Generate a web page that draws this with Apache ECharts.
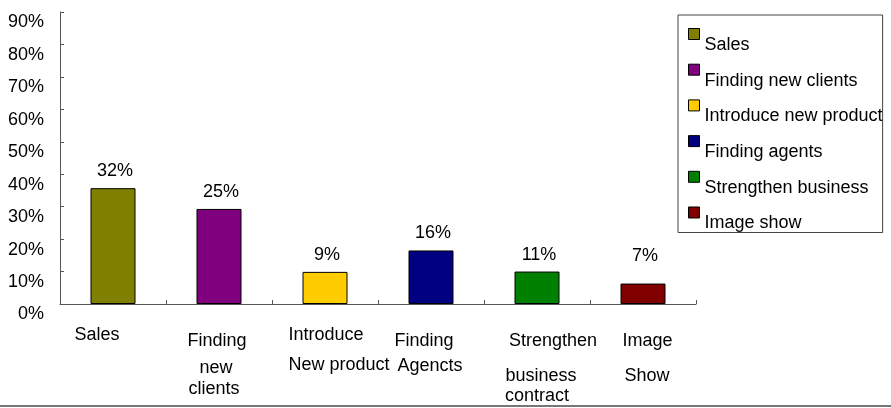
<!DOCTYPE html>
<html>
<head>
<meta charset="utf-8">
<script src="https://cdn.jsdelivr.net/npm/echarts@6/dist/echarts.min.js"></script>
<style>
html,body{margin:0;padding:0;background:#fff;}
#chart{width:891px;height:408px;}
</style>
</head>
<body>
<div id="chart"></div>
<script>
// ---- data ----
const categories = ['Sales', 'Finding new clients', 'Introduce new product', 'Finding agents', 'Strengthen business', 'Image show'];
const barValues = [35.7, 29.3, 9.9, 16.5, 10.0, 6.3];          // bar heights as drawn (percent)
const labelTexts = ['32%', '25%', '9%', '16%', '11%', '7%'];    // data labels as printed
const xLabelLines = [
  ['Sales'],
  ['Finding', 'new', 'clients'],
  ['Introduce', 'New product'],
  ['Finding', 'Agencts'],
  ['Strengthen', 'business', 'contract'],
  ['Image', 'Show']
];
const yTicks = [0, 10, 20, 30, 40, 50, 60, 70, 80, 90];
const colors = ['#808000', '#800080', '#FFCC00', '#000080', '#008000', '#800000'];

// ---- layout/style (not data) ----
// per line: [horizontal shift, top padding]
const xLabelLayout = [
  [[-16, 16]],
  [[-2, 22.5], [-3, 8.5], [-5, 3]],
  [[1, 16], [14, 12.5]],
  [[-7, 22.5], [-1, 7]],
  [[16, 22.5], [4, 17], [0, 1.5]],
  [[4.5, 22.5], [4, 17]]
];
const labelExtraOffset = [0, 0, 0, 0, 0, -11];
const FONT = "'Liberation Sans', Arial, sans-serif";

const rich = {};
xLabelLayout.forEach((lines, i) => {
  lines.forEach((l, j) => {
    const d = l[0];
    rich['t' + i + '_' + j] = {
      fontSize: 18, fontFamily: FONT, color: '#000',
      padding: [l[1], d < 0 ? -2 * d : 0, 0, d > 0 ? 2 * d : 0]
    };
  });
});

const series = categories.map((name, i) => ({
  name: name,
  type: 'bar',
  stack: 'all',
  barWidth: 45,
  itemStyle: { color: colors[i], borderColor: '#000', borderWidth: 1 },
  label: {
    show: true, position: 'top', distance: 8,
    offset: [2, labelExtraOffset[i]],
    fontSize: 18, fontFamily: FONT, color: '#000',
    formatter: () => labelTexts[i]
  },
  data: categories.map((c, k) => (k === i ? barValues[i] : '-'))
}));

const chart = echarts.init(document.getElementById('chart'), null, { renderer: 'canvas' });
chart.setOption({
  animation: false,
  backgroundColor: '#fff',
  textStyle: { fontFamily: FONT },
  grid: { left: 60, right: 195, top: 12, bottom: 104, containLabel: false },
  legend: {
    orient: 'vertical',
    left: 678, top: 15,
    padding: [13, 0, 0, 10],
    borderColor: '#444', borderWidth: 1,
    itemGap: 9.7, itemWidth: 11, itemHeight: 11,
    icon: 'rect',
    selectedMode: false,
    itemStyle: { borderColor: '#000', borderWidth: 1 },
    formatter: '{a|{name}}',
    textStyle: {
      fontSize: 18, fontFamily: FONT, color: '#000',
      rich: { a: { fontSize: 18, fontFamily: FONT, color: '#000', padding: [22, 0, 0, 0] } }
    },
    data: categories
  },
  xAxis: {
    type: 'category',
    data: categories,
    axisLine: { lineStyle: { color: '#555', width: 1 } },
    axisTick: { show: true, inside: true, length: 4, alignWithLabel: false, lineStyle: { color: '#555' } },
    axisLabel: {
      interval: 0, margin: 6, hideOverlap: false,
      fontSize: 18, fontFamily: FONT, color: '#000',
      formatter: (v, i) => xLabelLines[i].map((t, j) => '{t' + i + '_' + j + '|' + t + '}').join('\n'),
      rich: rich
    },
    splitLine: { show: false }
  },
  yAxis: {
    type: 'value',
    min: yTicks[0], max: yTicks[yTicks.length - 1], interval: 10,
    axisLine: { show: true, lineStyle: { color: '#555', width: 1 } },
    axisTick: { show: true, inside: true, length: 4, lineStyle: { color: '#555' } },
    axisLabel: {
      margin: 16, fontSize: 18, fontFamily: FONT, color: '#000',
      formatter: '{a|{value}%}',
      rich: { a: { fontSize: 18, fontFamily: FONT, color: '#000', padding: [21, 0, 0, 0] } }
    },
    splitLine: { show: false }
  },
  graphic: [{
    type: 'line', silent: true,
    shape: { x1: 0, y1: 406, x2: 891, y2: 406 },
    style: { stroke: '#777', lineWidth: 2 }
  }],
  series: series
});
</script>
</body>
</html>
